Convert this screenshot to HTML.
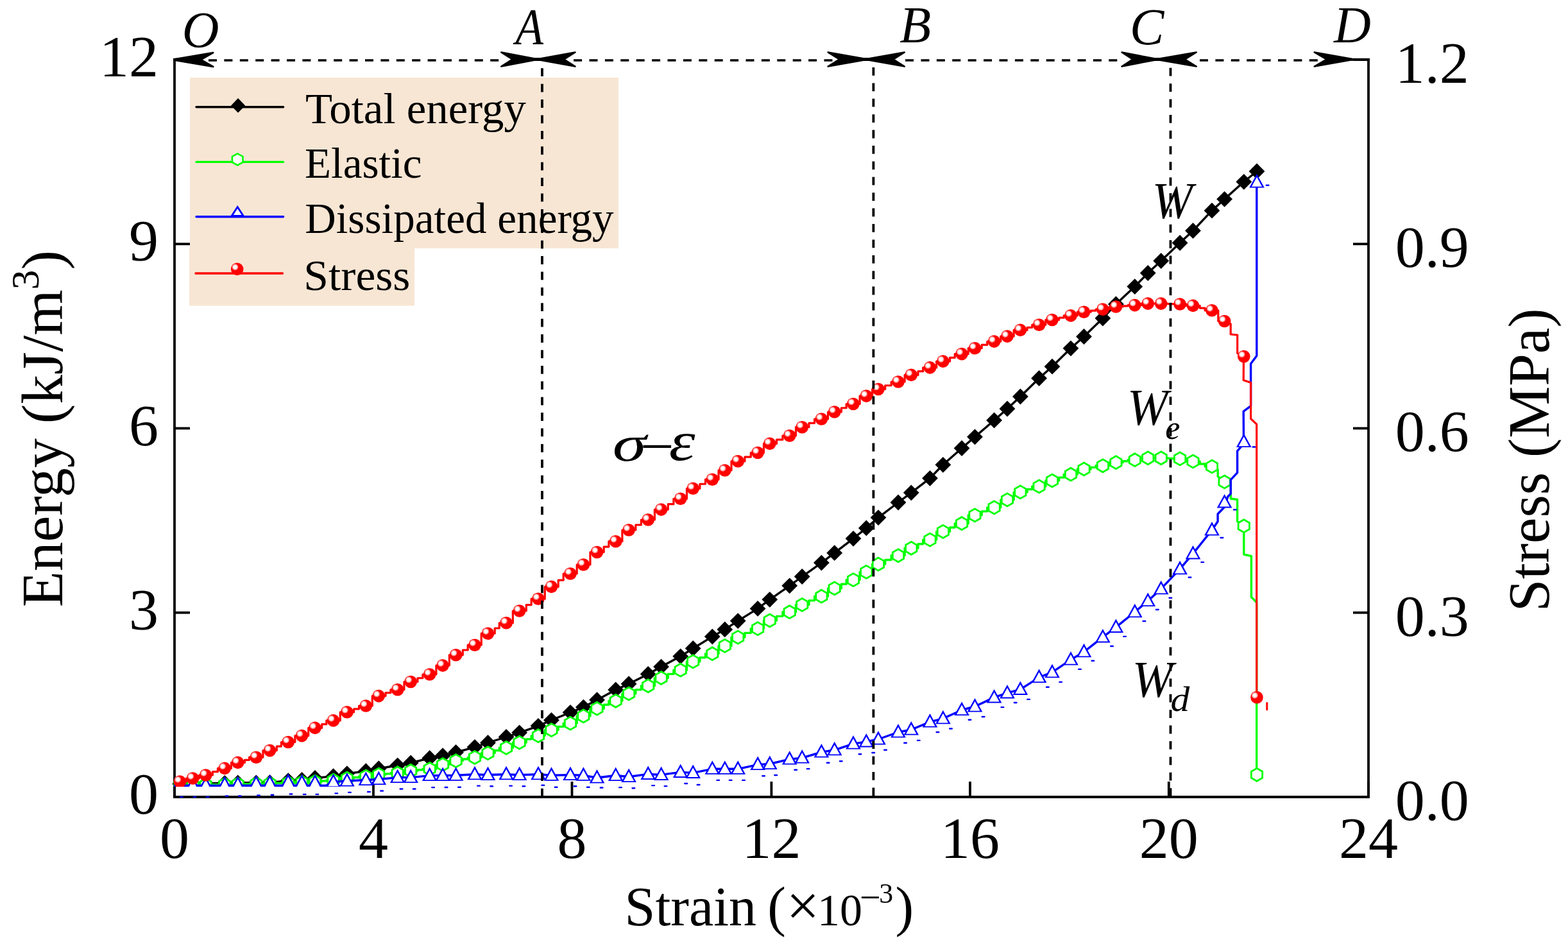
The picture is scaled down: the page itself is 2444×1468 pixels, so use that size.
<!DOCTYPE html>
<html><head><meta charset="utf-8"><title>Energy evolution</title>
<style>html,body{margin:0;padding:0;background:#fff;}svg{display:block;}</style>
</head><body>
<svg width="2444" height="1468" viewBox="0 0 2444 1468">
<defs>
<radialGradient id="hl" cx="0.5" cy="0.5" r="0.5">
<stop offset="0" stop-color="#fff"/>
<stop offset="0.4" stop-color="#fff"/>
<stop offset="0.62" stop-color="#ffc6c6"/>
<stop offset="0.85" stop-color="#ff6a6a"/>
<stop offset="1" stop-color="#ff0000"/>
</radialGradient>
<g id="ball"><circle r="9.8" fill="#ff0000"/><circle cx="-3.2" cy="-3.2" r="5.4" fill="url(#hl)"/></g>
<path id="dia" d="M0,-12.4 L12.4,0 L0,12.4 L-12.4,0 Z" fill="#000"/>
<path id="hex" d="M0,-10 L8.66,-5 L8.66,5 L0,10 L-8.66,5 L-8.66,-5 Z" fill="#fff" stroke="#00ff00" stroke-width="2.8"/>
<g id="tri"><path d="M0,0 L11.8,21.5 L-11.8,21.5 Z" fill="#0000ff"/><path d="M0,5 L8.07,19.7 L-8.07,19.7 Z" fill="#fff"/></g>
<g id="trio"><path d="M0,5 L8.9,21.5 L-8.9,21.5 Z" fill="#fff"/><path d="M0,0 L11.8,21.5 L8.9,21.5 L0,5 L-8.9,21.5 L-11.8,21.5 Z" fill="#0000ff"/></g>
<clipPath id="pc"><rect x="269" y="60" width="1900" height="1166"/></clipPath>
</defs>
<rect width="2444" height="1468" fill="#fff"/>
<rect x="296" y="121" width="668" height="266" fill="#F8E6D4"/>
<rect x="295" y="386" width="351" height="90.5" fill="#F8E6D4"/>
<path d="M272.0,91 L272.0,1242.0 L2133.0,1242.0 L2133.0,91" fill="none" stroke="#000" stroke-width="3.8" stroke-linejoin="miter"/>
<line x1="2106" y1="92.8" x2="2135" y2="92.8" stroke="#000" stroke-width="4"/>
<line x1="270" y1="92.8" x2="285" y2="92.8" stroke="#000" stroke-width="4"/>
<line x1="272" y1="1242.0" x2="272" y2="1218.0" stroke="#000" stroke-width="3.8"/>
<line x1="582" y1="1242.0" x2="582" y2="1218.0" stroke="#000" stroke-width="3.8"/>
<line x1="891.5" y1="1242.0" x2="891.5" y2="1218.0" stroke="#000" stroke-width="3.8"/>
<line x1="1202.4" y1="1242.0" x2="1202.4" y2="1218.0" stroke="#000" stroke-width="3.8"/>
<line x1="1512" y1="1242.0" x2="1512" y2="1218.0" stroke="#000" stroke-width="3.8"/>
<line x1="1821.8" y1="1242.0" x2="1821.8" y2="1218.0" stroke="#000" stroke-width="3.8"/>
<line x1="2133" y1="1242.0" x2="2133" y2="1218.0" stroke="#000" stroke-width="3.8"/>
<line x1="272.0" y1="1242" x2="296.0" y2="1242" stroke="#000" stroke-width="3.8"/>
<line x1="2133.0" y1="1242" x2="2109.0" y2="1242" stroke="#000" stroke-width="3.8"/>
<line x1="272.0" y1="954.75" x2="296.0" y2="954.75" stroke="#000" stroke-width="3.8"/>
<line x1="2133.0" y1="954.75" x2="2109.0" y2="954.75" stroke="#000" stroke-width="3.8"/>
<line x1="272.0" y1="667.5" x2="296.0" y2="667.5" stroke="#000" stroke-width="3.8"/>
<line x1="2133.0" y1="667.5" x2="2109.0" y2="667.5" stroke="#000" stroke-width="3.8"/>
<line x1="272.0" y1="380.25" x2="296.0" y2="380.25" stroke="#000" stroke-width="3.8"/>
<line x1="2133.0" y1="380.25" x2="2109.0" y2="380.25" stroke="#000" stroke-width="3.8"/>
<line x1="272.0" y1="93" x2="296.0" y2="93" stroke="#000" stroke-width="3.8"/>
<line x1="2133.0" y1="93" x2="2109.0" y2="93" stroke="#000" stroke-width="3.8"/>
<g clip-path="url(#pc)">
<polyline points="271,1221.5 280.4,1221.5 300.5,1221.5 320.7,1221 350.2,1220.5 370.7,1220 399.3,1219.8 420.6,1219.5 449.2,1216.6 470.5,1215.4 491,1212.5 519.6,1209.7 540.9,1205.6 570.3,1201.7 590.3,1197.7 619.7,1192.8 640.2,1188.9 669.7,1181.5 690.1,1177.7 710.6,1172.5 740,1164.3 760.5,1157.5 789.1,1148.5 809.6,1141.8 839,1131.3 859.5,1122.3 889,1110.3 909.4,1102.1 930.5,1090.7 959.7,1074.9 980.1,1065.7 1010.2,1050.4 1030.6,1039.1 1060.7,1022.8 1080.2,1010.5 1110.3,992.1 1129.8,980.9 1150.2,967.6 1181.1,948.4 1199.8,934.3 1230.7,912.8 1250.2,898.5 1280.4,877.1 1300.7,861.7 1330,839.3 1350.3,822.9 1369,806.6 1400,783 1420.3,767.8 1449.5,745.3 1469.9,724.3 1499.1,698.5 1519.5,680.8 1549.6,655 1570,637 1590.4,618 1619.6,589.5 1640,571.2 1669,542.8 1689.5,524.5 1718.9,496 1739.4,474 1768.8,446.6 1789.2,425.5 1809.7,406.5 1839.1,378.5 1859.5,359.5 1889,328.2 1908.6,310.3 1938.8,283.3 1959,267" fill="none" stroke="#000" stroke-width="3.4" stroke-linejoin="round"/>
<use href="#dia" x="280.4" y="1221.5"/>
<use href="#dia" x="300.5" y="1221.5"/>
<use href="#dia" x="320.7" y="1221"/>
<use href="#dia" x="350.2" y="1220.5"/>
<use href="#dia" x="370.7" y="1220"/>
<use href="#dia" x="399.3" y="1219.8"/>
<use href="#dia" x="420.6" y="1219.5"/>
<use href="#dia" x="449.2" y="1216.6"/>
<use href="#dia" x="470.5" y="1215.4"/>
<use href="#dia" x="491" y="1212.5"/>
<use href="#dia" x="519.6" y="1209.7"/>
<use href="#dia" x="540.9" y="1205.6"/>
<use href="#dia" x="570.3" y="1201.7"/>
<use href="#dia" x="590.3" y="1197.7"/>
<use href="#dia" x="619.7" y="1192.8"/>
<use href="#dia" x="640.2" y="1188.9"/>
<use href="#dia" x="669.7" y="1181.5"/>
<use href="#dia" x="690.1" y="1177.7"/>
<use href="#dia" x="710.6" y="1172.5"/>
<use href="#dia" x="740" y="1164.3"/>
<use href="#dia" x="760.5" y="1157.5"/>
<use href="#dia" x="789.1" y="1148.5"/>
<use href="#dia" x="809.6" y="1141.8"/>
<use href="#dia" x="839" y="1131.3"/>
<use href="#dia" x="859.5" y="1122.3"/>
<use href="#dia" x="889" y="1110.3"/>
<use href="#dia" x="909.4" y="1102.1"/>
<use href="#dia" x="930.5" y="1090.7"/>
<use href="#dia" x="959.7" y="1074.9"/>
<use href="#dia" x="980.1" y="1065.7"/>
<use href="#dia" x="1010.2" y="1050.4"/>
<use href="#dia" x="1030.6" y="1039.1"/>
<use href="#dia" x="1060.7" y="1022.8"/>
<use href="#dia" x="1080.2" y="1010.5"/>
<use href="#dia" x="1110.3" y="992.1"/>
<use href="#dia" x="1129.8" y="980.9"/>
<use href="#dia" x="1150.2" y="967.6"/>
<use href="#dia" x="1181.1" y="948.4"/>
<use href="#dia" x="1199.8" y="934.3"/>
<use href="#dia" x="1230.7" y="912.8"/>
<use href="#dia" x="1250.2" y="898.5"/>
<use href="#dia" x="1280.4" y="877.1"/>
<use href="#dia" x="1300.7" y="861.7"/>
<use href="#dia" x="1330" y="839.3"/>
<use href="#dia" x="1350.3" y="822.9"/>
<use href="#dia" x="1369" y="806.6"/>
<use href="#dia" x="1400" y="783"/>
<use href="#dia" x="1420.3" y="767.8"/>
<use href="#dia" x="1449.5" y="745.3"/>
<use href="#dia" x="1469.9" y="724.3"/>
<use href="#dia" x="1499.1" y="698.5"/>
<use href="#dia" x="1519.5" y="680.8"/>
<use href="#dia" x="1549.6" y="655"/>
<use href="#dia" x="1570" y="637"/>
<use href="#dia" x="1590.4" y="618"/>
<use href="#dia" x="1619.6" y="589.5"/>
<use href="#dia" x="1640" y="571.2"/>
<use href="#dia" x="1669" y="542.8"/>
<use href="#dia" x="1689.5" y="524.5"/>
<use href="#dia" x="1718.9" y="496"/>
<use href="#dia" x="1739.4" y="474"/>
<use href="#dia" x="1768.8" y="446.6"/>
<use href="#dia" x="1789.2" y="425.5"/>
<use href="#dia" x="1809.7" y="406.5"/>
<use href="#dia" x="1839.1" y="378.5"/>
<use href="#dia" x="1859.5" y="359.5"/>
<use href="#dia" x="1889" y="328.2"/>
<use href="#dia" x="1908.6" y="310.3"/>
<use href="#dia" x="1938.8" y="283.3"/>
<use href="#dia" x="1959" y="267"/>
<polyline points="271,1223.5 280.4,1223.5 290.45,1223.5 290.45,1223.5 290.45,1223.5 290.45,1223.5 300.5,1223.5 310.6,1223.5 310.6,1223.25 310.6,1223.25 310.6,1223 320.7,1223 331.4,1223 331.4,1222.75 339.4,1222.75 339.4,1222.5 350.2,1222.5 360.45,1222.5 360.45,1222.25 360.45,1222.25 360.45,1222 370.7,1222 381.4,1222 381.4,1221.75 388.5,1221.75 388.5,1221.5 399.3,1221.5 409.95,1221.5 409.95,1221.25 409.95,1221.25 409.95,1221 420.6,1221 431.3,1221 431.3,1220.5 438.4,1220.5 438.4,1220 449.2,1220 459.85,1220 459.85,1219.5 459.85,1219.5 459.85,1219 470.5,1219 480.75,1219 480.75,1218.5 480.75,1218.5 480.75,1218 491,1218 501.7,1218 501.7,1217 508.8,1217 508.8,1216 519.6,1216 530.25,1216 530.25,1214.5 530.25,1214.5 530.25,1213 540.9,1213 551.6,1213 551.6,1211.5 559.5,1211.5 559.5,1210 570.3,1210 580.3,1210 580.3,1208.5 580.3,1208.5 580.3,1207 590.3,1207 601,1207 601,1205.85 608.9,1205.85 608.9,1204.7 619.7,1204.7 629.95,1204.7 629.95,1202.95 629.95,1202.95 629.95,1201.2 640.2,1201.2 650.9,1201.2 650.9,1199.75 658.9,1199.75 658.9,1198.3 669.7,1198.3 679.9,1198.3 679.9,1194.9 679.9,1194.9 679.9,1191.5 690.1,1191.5 700.35,1191.5 700.35,1188.55 700.35,1188.55 700.35,1185.6 710.6,1185.6 721.3,1185.6 721.3,1183 729.2,1183 729.2,1180.4 740,1180.4 750.25,1180.4 750.25,1177 750.25,1177 750.25,1173.6 760.5,1173.6 771.2,1173.6 771.2,1169.5 778.3,1169.5 778.3,1165.4 789.1,1165.4 799.35,1165.4 799.35,1161.25 799.35,1161.25 799.35,1157.1 809.6,1157.1 820.3,1157.1 820.3,1151.85 828.2,1151.85 828.2,1146.6 839,1146.6 849.25,1146.6 849.25,1142.1 849.25,1142.1 849.25,1137.6 859.5,1137.6 870.2,1137.6 870.2,1132.35 878.2,1132.35 878.2,1127.1 889,1127.1 899.2,1127.1 899.2,1121.5 899.2,1121.5 899.2,1115.9 909.4,1115.9 919.95,1115.9 919.95,1110.05 919.95,1110.05 919.95,1104.2 930.5,1104.2 941.2,1104.2 941.2,1098.25 948.9,1098.25 948.9,1092.3 959.7,1092.3 969.9,1092.3 969.9,1086.65 969.9,1086.65 969.9,1081 980.1,1081 990.8,1081 990.8,1074.9 999.4,1074.9 999.4,1068.8 1010.2,1068.8 1020.4,1068.8 1020.4,1062.65 1020.4,1062.65 1020.4,1056.5 1030.6,1056.5 1041.3,1056.5 1041.3,1050.35 1049.9,1050.35 1049.9,1044.2 1060.7,1044.2 1070.45,1044.2 1070.45,1037.55 1070.45,1037.55 1070.45,1030.9 1080.2,1030.9 1090.9,1030.9 1090.9,1024.8 1099.5,1024.8 1099.5,1018.7 1110.3,1018.7 1120.05,1018.7 1120.05,1012.55 1120.05,1012.55 1120.05,1006.4 1129.8,1006.4 1140,1006.4 1140,999.75 1140,999.75 1140,993.1 1150.2,993.1 1160.9,993.1 1160.9,986.35 1170.3,986.35 1170.3,979.6 1181.1,979.6 1190.45,979.6 1190.45,973.3 1190.45,973.3 1190.45,967 1199.8,967 1210.5,967 1210.5,960.35 1219.9,960.35 1219.9,953.7 1230.7,953.7 1240.45,953.7 1240.45,948.1 1240.45,948.1 1240.45,942.5 1250.2,942.5 1260.9,942.5 1260.9,935.85 1269.6,935.85 1269.6,929.2 1280.4,929.2 1290.55,929.2 1290.55,923.05 1290.55,923.05 1290.55,916.9 1300.7,916.9 1311.4,916.9 1311.4,910.25 1319.2,910.25 1319.2,903.6 1330,903.6 1340.15,903.6 1340.15,897.5 1340.15,897.5 1340.15,891.4 1350.3,891.4 1359.65,891.4 1359.65,885.25 1359.65,885.25 1359.65,879.1 1369,879.1 1379.7,879.1 1379.7,872.45 1389.2,872.45 1389.2,865.8 1400,865.8 1410.15,865.8 1410.15,860.05 1410.15,860.05 1410.15,854.3 1420.3,854.3 1431,854.3 1431,847.7 1438.7,847.7 1438.7,841.1 1449.5,841.1 1459.7,841.1 1459.7,834.75 1459.7,834.75 1459.7,828.4 1469.9,828.4 1480.6,828.4 1480.6,822.05 1488.3,822.05 1488.3,815.7 1499.1,815.7 1509.3,815.7 1509.3,809.3 1509.3,809.3 1509.3,802.9 1519.5,802.9 1530.2,802.9 1530.2,796.9 1538.8,796.9 1538.8,790.9 1549.6,790.9 1559.8,790.9 1559.8,784.9 1559.8,784.9 1559.8,778.9 1570,778.9 1580.2,778.9 1580.2,772.9 1580.2,772.9 1580.2,766.9 1590.4,766.9 1601.1,766.9 1601.1,762.45 1608.8,762.45 1608.8,758 1619.6,758 1629.8,758 1629.8,753.5 1629.8,753.5 1629.8,749 1640,749 1650.7,749 1650.7,744.1 1658.2,744.1 1658.2,739.2 1669,739.2 1679.25,739.2 1679.25,735.1 1679.25,735.1 1679.25,731 1689.5,731 1700.2,731 1700.2,728.4 1708.1,728.4 1708.1,725.8 1718.9,725.8 1729.15,725.8 1729.15,723.25 1729.15,723.25 1729.15,720.7 1739.4,720.7 1750.1,720.7 1750.1,718.7 1758,718.7 1758,716.7 1768.8,716.7 1779,716.7 1779,715.25 1779,715.25 1779,713.8 1789.2,713.8 1799.45,713.8 1799.45,713.8 1799.45,713.8 1799.45,713.8 1809.7,713.8 1820.4,713.8 1820.4,714.35 1828.3,714.35 1828.3,714.9 1839.1,714.9 1849.3,714.9 1849.3,716.95 1849.3,716.95 1849.3,719 1859.5,719 1870.2,719 1870.2,723 1878.2,723 1878.2,727 1889,727 1898.2,732 1898.2,742.4 1908.6,751 1918.3,756 1918.3,777 1928.6,778.5 1928.6,812.7 1938.8,819.7 1938.8,864 1950.4,866.7 1950.4,930.5 1957.5,937.6 1958.7,940 1958.7,1207.3" fill="none" stroke="#00ff00" stroke-width="3.4" stroke-linejoin="round"/>
<use href="#hex" x="280.4" y="1223.5"/>
<use href="#hex" x="300.5" y="1223.5"/>
<use href="#hex" x="320.7" y="1223"/>
<use href="#hex" x="350.2" y="1222.5"/>
<use href="#hex" x="370.7" y="1222"/>
<use href="#hex" x="399.3" y="1221.5"/>
<use href="#hex" x="420.6" y="1221"/>
<use href="#hex" x="449.2" y="1220"/>
<use href="#hex" x="470.5" y="1219"/>
<use href="#hex" x="491" y="1218"/>
<use href="#hex" x="519.6" y="1216"/>
<use href="#hex" x="540.9" y="1213"/>
<use href="#hex" x="570.3" y="1210"/>
<use href="#hex" x="590.3" y="1207"/>
<use href="#hex" x="619.7" y="1204.7"/>
<use href="#hex" x="640.2" y="1201.2"/>
<use href="#hex" x="669.7" y="1198.3"/>
<use href="#hex" x="690.1" y="1191.5"/>
<use href="#hex" x="710.6" y="1185.6"/>
<use href="#hex" x="740" y="1180.4"/>
<use href="#hex" x="760.5" y="1173.6"/>
<use href="#hex" x="789.1" y="1165.4"/>
<use href="#hex" x="809.6" y="1157.1"/>
<use href="#hex" x="839" y="1146.6"/>
<use href="#hex" x="859.5" y="1137.6"/>
<use href="#hex" x="889" y="1127.1"/>
<use href="#hex" x="909.4" y="1115.9"/>
<use href="#hex" x="930.5" y="1104.2"/>
<use href="#hex" x="959.7" y="1092.3"/>
<use href="#hex" x="980.1" y="1081"/>
<use href="#hex" x="1010.2" y="1068.8"/>
<use href="#hex" x="1030.6" y="1056.5"/>
<use href="#hex" x="1060.7" y="1044.2"/>
<use href="#hex" x="1080.2" y="1030.9"/>
<use href="#hex" x="1110.3" y="1018.7"/>
<use href="#hex" x="1129.8" y="1006.4"/>
<use href="#hex" x="1150.2" y="993.1"/>
<use href="#hex" x="1181.1" y="979.6"/>
<use href="#hex" x="1199.8" y="967"/>
<use href="#hex" x="1230.7" y="953.7"/>
<use href="#hex" x="1250.2" y="942.5"/>
<use href="#hex" x="1280.4" y="929.2"/>
<use href="#hex" x="1300.7" y="916.9"/>
<use href="#hex" x="1330" y="903.6"/>
<use href="#hex" x="1350.3" y="891.4"/>
<use href="#hex" x="1369" y="879.1"/>
<use href="#hex" x="1400" y="865.8"/>
<use href="#hex" x="1420.3" y="854.3"/>
<use href="#hex" x="1449.5" y="841.1"/>
<use href="#hex" x="1469.9" y="828.4"/>
<use href="#hex" x="1499.1" y="815.7"/>
<use href="#hex" x="1519.5" y="802.9"/>
<use href="#hex" x="1549.6" y="790.9"/>
<use href="#hex" x="1570" y="778.9"/>
<use href="#hex" x="1590.4" y="766.9"/>
<use href="#hex" x="1619.6" y="758"/>
<use href="#hex" x="1640" y="749"/>
<use href="#hex" x="1669" y="739.2"/>
<use href="#hex" x="1689.5" y="731"/>
<use href="#hex" x="1718.9" y="725.8"/>
<use href="#hex" x="1739.4" y="720.7"/>
<use href="#hex" x="1768.8" y="716.7"/>
<use href="#hex" x="1789.2" y="713.8"/>
<use href="#hex" x="1809.7" y="713.8"/>
<use href="#hex" x="1839.1" y="714.9"/>
<use href="#hex" x="1859.5" y="719"/>
<use href="#hex" x="1889" y="727"/>
<use href="#hex" x="1908.6" y="751"/>
<use href="#hex" x="1938.8" y="819.7"/>
<use href="#hex" x="1959" y="1207.3"/>
<polyline points="271,1224.2 280.4,1224.2 300.5,1224.2 320.7,1224.2 350.2,1224.2 370.7,1224.2 399.3,1224.2 420.6,1224.2 449.2,1224.2 470.5,1224.2 491,1224.2 508,1224.2 519.6,1218.5 540.9,1217 570.3,1215.5 590.3,1214.5 619.7,1211.6 640.2,1211.6 669.7,1208.6 690.1,1208.5 710.6,1208.3 740,1206.8 760.5,1207.6 789.1,1206.8 809.6,1207.6 839,1206.8 859.5,1208.3 889,1207.6 909.4,1208.3 930.5,1212 959.7,1208.5 980.1,1210.5 1010.2,1206.4 1030.6,1207.4 1060.7,1203.4 1080.2,1204.4 1110.3,1198.3 1129.8,1198.3 1150.2,1198.3 1181.1,1191.6 1199.8,1190.5 1230.7,1183.1 1250.2,1181.1 1280.4,1172.1 1300.7,1168.8 1330,1159.1 1350.3,1155.9 1369,1152 1400,1141 1420.3,1137.1 1449.5,1125 1469.9,1119.8 1499.1,1106.5 1519.5,1101 1549.6,1086.9 1570,1079.9 1590.4,1074.4 1619.6,1055.6 1640,1047.7 1669,1028.1 1689.5,1015.8 1718.9,992.9 1739.4,977.4 1768.8,953.7 1789.2,936.5 1809.7,917.7 1839.1,886.7 1859.5,862.9 1889,826 1898.1,812.7 1898.1,801 1908.7,790 1913.7,774 1918.3,769.4 1918.3,747.6 1928.6,736.7 1928.6,702.9 1935.5,694.9 1938.5,688 1938.2,641.2 1949.6,632.6 1949.6,566.8 1958.8,554.4 1958.8,284" fill="none" stroke="#0000ff" stroke-width="3.4" stroke-linejoin="round"/>
<use href="#trio" x="280.4" y="1210"/>
<use href="#trio" x="300.5" y="1210"/>
<use href="#trio" x="320.7" y="1210"/>
<use href="#trio" x="350.2" y="1209.3"/>
<use href="#trio" x="370.7" y="1209.3"/>
<use href="#trio" x="399.3" y="1208"/>
<use href="#trio" x="420.6" y="1207.2"/>
<use href="#trio" x="449.2" y="1205.5"/>
<use href="#trio" x="470.5" y="1206.4"/>
<use href="#trio" x="491" y="1206.4"/>
<use href="#tri" x="519.6" y="1205.5"/>
<use href="#tri" x="540.9" y="1204"/>
<use href="#tri" x="570.3" y="1202.5"/>
<use href="#tri" x="590.3" y="1201.5"/>
<use href="#tri" x="619.7" y="1198.6"/>
<use href="#tri" x="640.2" y="1198.6"/>
<use href="#tri" x="669.7" y="1195.6"/>
<use href="#tri" x="690.1" y="1195.5"/>
<use href="#tri" x="710.6" y="1195.3"/>
<use href="#tri" x="740" y="1193.8"/>
<use href="#tri" x="760.5" y="1194.6"/>
<use href="#tri" x="789.1" y="1193.8"/>
<use href="#tri" x="809.6" y="1194.6"/>
<use href="#tri" x="839" y="1193.8"/>
<use href="#tri" x="859.5" y="1195.3"/>
<use href="#tri" x="889" y="1194.6"/>
<use href="#tri" x="909.4" y="1195.3"/>
<use href="#tri" x="930.5" y="1199"/>
<use href="#tri" x="959.7" y="1195.5"/>
<use href="#tri" x="980.1" y="1197.5"/>
<use href="#tri" x="1010.2" y="1193.4"/>
<use href="#tri" x="1030.6" y="1194.4"/>
<use href="#tri" x="1060.7" y="1190.4"/>
<use href="#tri" x="1080.2" y="1191.4"/>
<use href="#tri" x="1110.3" y="1185.3"/>
<use href="#tri" x="1129.8" y="1185.3"/>
<use href="#tri" x="1150.2" y="1185.3"/>
<use href="#tri" x="1181.1" y="1178.6"/>
<use href="#tri" x="1199.8" y="1177.5"/>
<use href="#tri" x="1230.7" y="1170.1"/>
<use href="#tri" x="1250.2" y="1168.1"/>
<use href="#tri" x="1280.4" y="1159.1"/>
<use href="#tri" x="1300.7" y="1155.8"/>
<use href="#tri" x="1330" y="1146.1"/>
<use href="#tri" x="1350.3" y="1142.9"/>
<use href="#tri" x="1369" y="1139"/>
<use href="#tri" x="1400" y="1128"/>
<use href="#tri" x="1420.3" y="1124.1"/>
<use href="#tri" x="1449.5" y="1112"/>
<use href="#tri" x="1469.9" y="1106.8"/>
<use href="#tri" x="1499.1" y="1093.5"/>
<use href="#tri" x="1519.5" y="1088"/>
<use href="#tri" x="1549.6" y="1073.9"/>
<use href="#tri" x="1570" y="1066.9"/>
<use href="#tri" x="1590.4" y="1061.4"/>
<use href="#tri" x="1619.6" y="1042.6"/>
<use href="#tri" x="1640" y="1034.7"/>
<use href="#tri" x="1669" y="1015.1"/>
<use href="#tri" x="1689.5" y="1002.8"/>
<use href="#tri" x="1718.9" y="979.9"/>
<use href="#tri" x="1739.4" y="964.4"/>
<use href="#tri" x="1768.8" y="940.7"/>
<use href="#tri" x="1789.2" y="923.5"/>
<use href="#tri" x="1809.7" y="904.7"/>
<use href="#tri" x="1839.1" y="873.7"/>
<use href="#tri" x="1859.5" y="849.9"/>
<use href="#tri" x="1889" y="813"/>
<use href="#tri" x="1908.6" y="769.9"/>
<use href="#tri" x="1938.8" y="675.5"/>
<use href="#tri" x="1959" y="271"/>
<polyline points="280.4,1218 290.45,1218 290.45,1215.5 290.45,1215.5 290.45,1213 300.5,1213 310.6,1213 310.6,1210.5 310.6,1210.5 310.6,1208 320.7,1208 331.4,1208 331.4,1202.7 339.4,1202.7 339.4,1197.4 350.2,1197.4 360.45,1197.4 360.45,1192.9 360.45,1192.9 360.45,1188.4 370.7,1188.4 381.4,1188.4 381.4,1184.3 388.5,1184.3 388.5,1180.2 399.3,1180.2 409.95,1180.2 409.95,1174.9 409.95,1174.9 409.95,1169.6 420.6,1169.6 431.3,1169.6 431.3,1163.05 438.4,1163.05 438.4,1156.5 449.2,1156.5 459.85,1156.5 459.85,1151.55 459.85,1151.55 459.85,1146.6 470.5,1146.6 480.75,1146.6 480.75,1140.5 480.75,1140.5 480.75,1134.4 491,1134.4 501.7,1134.4 501.7,1128.65 508.8,1128.65 508.8,1122.9 519.6,1122.9 530.25,1122.9 530.25,1116.35 530.25,1116.35 530.25,1109.8 540.9,1109.8 551.6,1109.8 551.6,1104.9 559.5,1104.9 559.5,1100 570.3,1100 580.3,1100 580.3,1092.3 580.3,1092.3 580.3,1084.6 590.3,1084.6 601,1084.6 601,1079.7 608.9,1079.7 608.9,1074.8 619.7,1074.8 629.95,1074.8 629.95,1068.65 629.95,1068.65 629.95,1062.5 640.2,1062.5 650.9,1062.5 650.9,1056.75 658.9,1056.75 658.9,1051 669.7,1051 679.9,1051 679.9,1044.05 679.9,1044.05 679.9,1037.1 690.1,1037.1 700.35,1037.1 700.35,1028.95 700.35,1028.95 700.35,1020.8 710.6,1020.8 721.3,1020.8 721.3,1013 729.2,1013 729.2,1005.2 740,1005.2 750.25,1005.2 750.25,996.2 750.25,996.2 750.25,987.2 760.5,987.2 771.2,987.2 771.2,979 778.3,979 778.3,970.8 789.1,970.8 799.35,970.8 799.35,961.4 799.35,961.4 799.35,952 809.6,952 820.3,952 820.3,942.6 828.2,942.6 828.2,933.2 839,933.2 849.25,933.2 849.25,923.8 849.25,923.8 849.25,914.4 859.5,914.4 870.2,914.4 870.2,904.2 878.2,904.2 878.2,894 889,894 899.2,894 899.2,887 899.2,887 899.2,880 909.4,880 919.95,880 919.95,870.25 919.95,870.25 919.95,860.5 930.5,860.5 941.2,860.5 941.2,852.1 948.9,852.1 948.9,843.7 959.7,843.7 969.9,843.7 969.9,834.85 969.9,834.85 969.9,826 980.1,826 990.8,826 990.8,818 999.4,818 999.4,810 1010.2,810 1020.4,810 1020.4,802.05 1020.4,802.05 1020.4,794.1 1030.6,794.1 1041.3,794.1 1041.3,785.7 1049.9,785.7 1049.9,777.3 1060.7,777.3 1070.45,777.3 1070.45,769.3 1070.45,769.3 1070.45,761.3 1080.2,761.3 1090.9,761.3 1090.9,754.25 1099.5,754.25 1099.5,747.2 1110.3,747.2 1120.05,747.2 1120.05,740.1 1120.05,740.1 1120.05,733 1129.8,733 1140,733 1140,725.9 1140,725.9 1140,718.8 1150.2,718.8 1160.9,718.8 1160.9,712.15 1170.3,712.15 1170.3,705.5 1181.1,705.5 1190.45,705.5 1190.45,698.45 1190.45,698.45 1190.45,691.4 1199.8,691.4 1210.5,691.4 1210.5,685.2 1219.9,685.2 1219.9,679 1230.7,679 1240.45,679 1240.45,672.35 1240.45,672.35 1240.45,665.7 1250.2,665.7 1260.9,665.7 1260.9,659.35 1269.6,659.35 1269.6,653 1280.4,653 1290.55,653 1290.55,647.5 1290.55,647.5 1290.55,642 1300.7,642 1311.4,642 1311.4,635.75 1319.2,635.75 1319.2,629.5 1330,629.5 1340.15,629.5 1340.15,623.3 1340.15,623.3 1340.15,617.1 1350.3,617.1 1359.65,617.1 1359.65,611.8 1359.65,611.8 1359.65,606.5 1369,606.5 1379.7,606.5 1379.7,600.75 1389.2,600.75 1389.2,595 1400,595 1410.15,595 1410.15,589.7 1410.15,589.7 1410.15,584.4 1420.3,584.4 1431,584.4 1431,578.65 1438.7,578.65 1438.7,572.9 1449.5,572.9 1459.7,572.9 1459.7,568 1459.7,568 1459.7,563.1 1469.9,563.1 1480.6,563.1 1480.6,557.35 1488.3,557.35 1488.3,551.6 1499.1,551.6 1509.3,551.6 1509.3,547.15 1509.3,547.15 1509.3,542.7 1519.5,542.7 1530.2,542.7 1530.2,537.4 1538.8,537.4 1538.8,532.1 1549.6,532.1 1559.8,532.1 1559.8,528.1 1559.8,528.1 1559.8,524.1 1570,524.1 1580.2,524.1 1580.2,519.25 1580.2,519.25 1580.2,514.4 1590.4,514.4 1601.1,514.4 1601.1,510.3 1608.8,510.3 1608.8,506.2 1619.6,506.2 1629.8,506.2 1629.8,502.35 1629.8,502.35 1629.8,498.5 1640,498.5 1650.7,498.5 1650.7,495.2 1658.2,495.2 1658.2,491.9 1669,491.9 1679.25,491.9 1679.25,489.05 1679.25,489.05 1679.25,486.2 1689.5,486.2 1700.2,486.2 1700.2,484.15 1708.1,484.15 1708.1,482.1 1718.9,482.1 1729.15,482.1 1729.15,480.05 1729.15,480.05 1729.15,478 1739.4,478 1750.1,478 1750.1,476.8 1758,476.8 1758,475.6 1768.8,475.6 1779,475.6 1779,474.35 1779,474.35 1779,473.1 1789.2,473.1 1799.45,473.1 1799.45,473.1 1799.45,473.1 1799.45,473.1 1809.7,473.1 1820.4,473.1 1820.4,473.55 1828.3,473.55 1828.3,474 1839.1,474 1849.3,474 1849.3,475.2 1849.3,475.2 1849.3,476.4 1859.5,476.4 1870.2,476.4 1870.2,480.1 1878.2,480.1 1878.2,483.8 1889,483.8 1898.8,483.8 1898.8,492.15 1898.8,492.15 1898.8,500.5 1908.6,500.5 1918.2,504.8 1918.2,521 1928.7,522 1928.7,550.6 1938.5,555.5 1938.2,592.5 1949.6,596.3 1949.6,652.6 1958.7,661.2 1958.7,1086.8" fill="none" stroke="#ff0000" stroke-width="3.2" stroke-linejoin="round"/>
<use href="#ball" x="280.4" y="1218"/>
<use href="#ball" x="300.5" y="1213"/>
<use href="#ball" x="320.7" y="1208"/>
<use href="#ball" x="350.2" y="1197.4"/>
<use href="#ball" x="370.7" y="1188.4"/>
<use href="#ball" x="399.3" y="1180.2"/>
<use href="#ball" x="420.6" y="1169.6"/>
<use href="#ball" x="449.2" y="1156.5"/>
<use href="#ball" x="470.5" y="1146.6"/>
<use href="#ball" x="491" y="1134.4"/>
<use href="#ball" x="519.6" y="1122.9"/>
<use href="#ball" x="540.9" y="1109.8"/>
<use href="#ball" x="570.3" y="1100"/>
<use href="#ball" x="590.3" y="1084.6"/>
<use href="#ball" x="619.7" y="1074.8"/>
<use href="#ball" x="640.2" y="1062.5"/>
<use href="#ball" x="669.7" y="1051"/>
<use href="#ball" x="690.1" y="1037.1"/>
<use href="#ball" x="710.6" y="1020.8"/>
<use href="#ball" x="740" y="1005.2"/>
<use href="#ball" x="760.5" y="987.2"/>
<use href="#ball" x="789.1" y="970.8"/>
<use href="#ball" x="809.6" y="952"/>
<use href="#ball" x="839" y="933.2"/>
<use href="#ball" x="859.5" y="914.4"/>
<use href="#ball" x="889" y="894"/>
<use href="#ball" x="909.4" y="880"/>
<use href="#ball" x="930.5" y="860.5"/>
<use href="#ball" x="959.7" y="843.7"/>
<use href="#ball" x="980.1" y="826"/>
<use href="#ball" x="1010.2" y="810"/>
<use href="#ball" x="1030.6" y="794.1"/>
<use href="#ball" x="1060.7" y="777.3"/>
<use href="#ball" x="1080.2" y="761.3"/>
<use href="#ball" x="1110.3" y="747.2"/>
<use href="#ball" x="1129.8" y="733"/>
<use href="#ball" x="1150.2" y="718.8"/>
<use href="#ball" x="1181.1" y="705.5"/>
<use href="#ball" x="1199.8" y="691.4"/>
<use href="#ball" x="1230.7" y="679"/>
<use href="#ball" x="1250.2" y="665.7"/>
<use href="#ball" x="1280.4" y="653"/>
<use href="#ball" x="1300.7" y="642"/>
<use href="#ball" x="1330" y="629.5"/>
<use href="#ball" x="1350.3" y="617.1"/>
<use href="#ball" x="1369" y="606.5"/>
<use href="#ball" x="1400" y="595"/>
<use href="#ball" x="1420.3" y="584.4"/>
<use href="#ball" x="1449.5" y="572.9"/>
<use href="#ball" x="1469.9" y="563.1"/>
<use href="#ball" x="1499.1" y="551.6"/>
<use href="#ball" x="1519.5" y="542.7"/>
<use href="#ball" x="1549.6" y="532.1"/>
<use href="#ball" x="1570" y="524.1"/>
<use href="#ball" x="1590.4" y="514.4"/>
<use href="#ball" x="1619.6" y="506.2"/>
<use href="#ball" x="1640" y="498.5"/>
<use href="#ball" x="1669" y="491.9"/>
<use href="#ball" x="1689.5" y="486.2"/>
<use href="#ball" x="1718.9" y="482.1"/>
<use href="#ball" x="1739.4" y="478"/>
<use href="#ball" x="1768.8" y="475.6"/>
<use href="#ball" x="1789.2" y="473.1"/>
<use href="#ball" x="1809.7" y="473.1"/>
<use href="#ball" x="1839.1" y="474"/>
<use href="#ball" x="1859.5" y="476.4"/>
<use href="#ball" x="1889" y="483.8"/>
<use href="#ball" x="1908.6" y="500.5"/>
<use href="#ball" x="1938.8" y="555.5"/>
<use href="#ball" x="1959" y="1086.8"/>
</g>
<rect x="1973.3" y="1093.9" width="3" height="13.3" rx="1.5" fill="#ff0000"/>
<rect x="280.1" y="1240.7" width="5.8" height="2.4" rx="0.8" fill="#0000ff"/>
<rect x="300.5" y="1240.7" width="5.8" height="2.4" rx="0.8" fill="#0000ff"/>
<rect x="320.6" y="1240.7" width="5.8" height="2.4" rx="0.8" fill="#0000ff"/>
<rect x="350.6" y="1239.2" width="5.8" height="2.4" rx="0.8" fill="#0000ff"/>
<rect x="370.9" y="1239.2" width="5.8" height="2.4" rx="0.8" fill="#0000ff"/>
<rect x="400.1" y="1238.3" width="5.8" height="2.4" rx="0.8" fill="#0000ff"/>
<rect x="421.6" y="1237.5" width="5.8" height="2.4" rx="0.8" fill="#0000ff"/>
<rect x="450.6" y="1236.3" width="5.8" height="2.4" rx="0.8" fill="#0000ff"/>
<rect x="471.8" y="1236.7" width="5.8" height="2.4" rx="0.8" fill="#0000ff"/>
<rect x="491.5" y="1236.7" width="5.8" height="2.4" rx="0.8" fill="#0000ff"/>
<rect x="521.4" y="1235.2" width="5.8" height="2.4" rx="0.8" fill="#0000ff"/>
<rect x="542.1" y="1233.7" width="5.8" height="2.4" rx="0.8" fill="#0000ff"/>
<rect x="572" y="1232.8" width="5.8" height="2.4" rx="0.8" fill="#0000ff"/>
<rect x="592.2" y="1231.3" width="5.8" height="2.4" rx="0.8" fill="#0000ff"/>
<rect x="622.6" y="1228.3" width="5.8" height="2.4" rx="0.8" fill="#0000ff"/>
<rect x="642.8" y="1228.3" width="5.8" height="2.4" rx="0.8" fill="#0000ff"/>
<rect x="672.2" y="1225.9" width="5.8" height="2.4" rx="0.8" fill="#0000ff"/>
<rect x="692.6" y="1225.8" width="5.8" height="2.4" rx="0.8" fill="#0000ff"/>
<rect x="713.1" y="1225.6" width="5.8" height="2.4" rx="0.8" fill="#0000ff"/>
<rect x="743.1" y="1223.4" width="5.8" height="2.4" rx="0.8" fill="#0000ff"/>
<rect x="763.3" y="1224.1" width="5.8" height="2.4" rx="0.8" fill="#0000ff"/>
<rect x="793.2" y="1223.4" width="5.8" height="2.4" rx="0.8" fill="#0000ff"/>
<rect x="813.5" y="1224.1" width="5.8" height="2.4" rx="0.8" fill="#0000ff"/>
<rect x="843.4" y="1222.6" width="5.8" height="2.4" rx="0.8" fill="#0000ff"/>
<rect x="863.7" y="1225.6" width="5.8" height="2.4" rx="0.8" fill="#0000ff"/>
<rect x="893.6" y="1224.1" width="5.8" height="2.4" rx="0.8" fill="#0000ff"/>
<rect x="913.9" y="1225.6" width="5.8" height="2.4" rx="0.8" fill="#0000ff"/>
<rect x="934.7" y="1226.3" width="5.8" height="2.4" rx="0.8" fill="#0000ff"/>
<rect x="964.1" y="1225.9" width="5.8" height="2.4" rx="0.8" fill="#0000ff"/>
<rect x="984.5" y="1227" width="5.8" height="2.4" rx="0.8" fill="#0000ff"/>
<rect x="1015.2" y="1222.9" width="5.8" height="2.4" rx="0.8" fill="#0000ff"/>
<rect x="1034.6" y="1223.9" width="5.8" height="2.4" rx="0.8" fill="#0000ff"/>
<rect x="1066.3" y="1219.8" width="5.8" height="2.4" rx="0.8" fill="#0000ff"/>
<rect x="1085.7" y="1221.8" width="5.8" height="2.4" rx="0.8" fill="#0000ff"/>
<rect x="1116.4" y="1214.7" width="5.8" height="2.4" rx="0.8" fill="#0000ff"/>
<rect x="1135.8" y="1214.7" width="5.8" height="2.4" rx="0.8" fill="#0000ff"/>
<rect x="1156.2" y="1214.7" width="5.8" height="2.4" rx="0.8" fill="#0000ff"/>
<rect x="1187.2" y="1208" width="5.8" height="2.4" rx="0.8" fill="#0000ff"/>
<rect x="1206.3" y="1206.8" width="5.8" height="2.4" rx="0.8" fill="#0000ff"/>
<rect x="1237.3" y="1198.6" width="5.8" height="2.4" rx="0.8" fill="#0000ff"/>
<rect x="1256.7" y="1196.9" width="5.8" height="2.4" rx="0.8" fill="#0000ff"/>
<rect x="1287.8" y="1187.6" width="5.8" height="2.4" rx="0.8" fill="#0000ff"/>
<rect x="1307.9" y="1185" width="5.8" height="2.4" rx="0.8" fill="#0000ff"/>
<rect x="1337.6" y="1174" width="5.8" height="2.4" rx="0.8" fill="#0000ff"/>
<rect x="1358.3" y="1171.8" width="5.8" height="2.4" rx="0.8" fill="#0000ff"/>
<rect x="1377.1" y="1167.6" width="5.8" height="2.4" rx="0.8" fill="#0000ff"/>
<rect x="1408.2" y="1156.6" width="5.8" height="2.4" rx="0.8" fill="#0000ff"/>
<rect x="1428.9" y="1152.7" width="5.8" height="2.4" rx="0.8" fill="#0000ff"/>
<rect x="1458.6" y="1139.8" width="5.8" height="2.4" rx="0.8" fill="#0000ff"/>
<rect x="1479.1" y="1134.3" width="5.8" height="2.4" rx="0.8" fill="#0000ff"/>
<rect x="1508.6" y="1120.5" width="5.8" height="2.4" rx="0.8" fill="#0000ff"/>
<rect x="1529.7" y="1115.8" width="5.8" height="2.4" rx="0.8" fill="#0000ff"/>
<rect x="1559.5" y="1100.9" width="5.8" height="2.4" rx="0.8" fill="#0000ff"/>
<rect x="1579.8" y="1093.8" width="5.8" height="2.4" rx="0.8" fill="#0000ff"/>
<rect x="1600.2" y="1088.7" width="5.8" height="2.4" rx="0.8" fill="#0000ff"/>
<rect x="1630" y="1069.6" width="5.8" height="2.4" rx="0.8" fill="#0000ff"/>
<rect x="1650.3" y="1061.7" width="5.8" height="2.4" rx="0.8" fill="#0000ff"/>
<rect x="1680.1" y="1041.7" width="5.8" height="2.4" rx="0.8" fill="#0000ff"/>
<rect x="1700.5" y="1028.5" width="5.8" height="2.4" rx="0.8" fill="#0000ff"/>
<rect x="1730.1" y="1005.8" width="5.8" height="2.4" rx="0.8" fill="#0000ff"/>
<rect x="1750.2" y="990.7" width="5.8" height="2.4" rx="0.8" fill="#0000ff"/>
<rect x="1780.5" y="966.8" width="5.8" height="2.4" rx="0.8" fill="#0000ff"/>
<rect x="1800.9" y="948.8" width="5.8" height="2.4" rx="0.8" fill="#0000ff"/>
<rect x="1821.4" y="930.5" width="5.8" height="2.4" rx="0.8" fill="#0000ff"/>
<rect x="1851.6" y="898.6" width="5.8" height="2.4" rx="0.8" fill="#0000ff"/>
<rect x="1871.3" y="874.9" width="5.8" height="2.4" rx="0.8" fill="#0000ff"/>
<rect x="1901.5" y="836.8" width="5.8" height="2.4" rx="0.8" fill="#0000ff"/>
<rect x="1922" y="793.1" width="5.8" height="2.4" rx="0.8" fill="#0000ff"/>
<rect x="1951.5" y="695.3" width="5.8" height="2.4" rx="0.8" fill="#0000ff"/>
<rect x="1972.7" y="287.5" width="5.8" height="2.4" rx="0.8" fill="#0000ff"/>
<line x1="845" y1="106.3" x2="845" y2="1242" stroke="#000" stroke-width="3.8" stroke-dasharray="12.8 11.6"/>
<line x1="1361.4" y1="105" x2="1361.4" y2="1242" stroke="#000" stroke-width="3.8" stroke-dasharray="12.8 11.6"/>
<line x1="1824.5" y1="105.8" x2="1824.5" y2="1242" stroke="#000" stroke-width="3.8" stroke-dasharray="12.8 11.6"/>
<line x1="325" y1="94" x2="781" y2="94" stroke="#000" stroke-width="3.6" stroke-dasharray="13 11.4"/>
<line x1="894.1" y1="94" x2="1298" y2="94" stroke="#000" stroke-width="3.6" stroke-dasharray="13 11.4"/>
<line x1="1411.1" y1="94" x2="1748" y2="94" stroke="#000" stroke-width="3.6" stroke-dasharray="13 11.4"/>
<line x1="1870" y1="94" x2="2056" y2="94" stroke="#000" stroke-width="3.6" stroke-dasharray="13 11.4"/>
<path d="M271.8,92.4 L332.3,82 L313.1,93 L332.3,104 L271.8,93.6 Z" fill="#000" stroke="#000" stroke-width="2.6" stroke-linejoin="round"/>
<path d="M835.2,91.9 L781.3,81.5 L798.5,92.5 L781.3,103.5 L835.2,93.1 Z" fill="#000" stroke="#000" stroke-width="2.6" stroke-linejoin="round"/>
<path d="M839.8,91.9 L896.5,81.5 L879.3,92.5 L896.5,103.5 L839.8,93.1 Z" fill="#000" stroke="#000" stroke-width="2.6" stroke-linejoin="round"/>
<path d="M1348.7,91.9 L1290.6,81.5 L1308.2,92.5 L1290.6,103.5 L1348.7,93.1 Z" fill="#000" stroke="#000" stroke-width="2.6" stroke-linejoin="round"/>
<path d="M1351.8,91.9 L1409.8,81.5 L1392.6,92.5 L1409.8,103.5 L1351.8,93.1 Z" fill="#000" stroke="#000" stroke-width="2.6" stroke-linejoin="round"/>
<path d="M1802.2,91.9 L1748.6,81.5 L1765.3,92.5 L1748.6,103.5 L1802.2,93.1 Z" fill="#000" stroke="#000" stroke-width="2.6" stroke-linejoin="round"/>
<path d="M1805.3,91.9 L1864.7,81.5 L1847.1,92.5 L1864.7,103.5 L1805.3,93.1 Z" fill="#000" stroke="#000" stroke-width="2.6" stroke-linejoin="round"/>
<path d="M2106.7,91.9 L2048.7,81.5 L2067.5,92.5 L2048.7,103.5 L2106.7,93.1 Z" fill="#000" stroke="#000" stroke-width="2.6" stroke-linejoin="round"/>
<rect x="830" y="90" width="15" height="5" fill="#000"/>
<rect x="1343" y="90" width="15" height="5" fill="#000"/>
<rect x="1797" y="90" width="14" height="5" fill="#000"/>
<g font-family="'Liberation Serif', 'Times New Roman', serif" fill="#000">
<text x="272" y="1336.6" font-size="92" text-anchor="middle">0</text>
<text x="582" y="1336.6" font-size="92" text-anchor="middle">4</text>
<text x="891.5" y="1336.6" font-size="92" text-anchor="middle">8</text>
<text x="1202.4" y="1336.6" font-size="92" text-anchor="middle">12</text>
<text x="1512" y="1336.6" font-size="92" text-anchor="middle">16</text>
<text x="1821.8" y="1336.6" font-size="92" text-anchor="middle">20</text>
<text x="2133" y="1336.6" font-size="92" text-anchor="middle">24</text>
<text x="247" y="1268" font-size="92" text-anchor="end">0</text>
<text x="247" y="980.75" font-size="92" text-anchor="end">3</text>
<text x="247" y="693.5" font-size="92" text-anchor="end">6</text>
<text x="247" y="406.25" font-size="92" text-anchor="end">9</text>
<text x="247" y="119" font-size="92" text-anchor="end">12</text>
<text x="2174.8" y="1277.8" font-size="92">0.0</text>
<text x="2174.8" y="990.55" font-size="92">0.3</text>
<text x="2174.8" y="703.3" font-size="92">0.6</text>
<text x="2174.8" y="416.05" font-size="92">0.9</text>
<text x="2174.8" y="128.8" font-size="92">1.2</text>
<text transform="translate(96.8,946.3) rotate(-90)" font-size="91.7">Energy (kJ/m<tspan font-size="62" dy="-36.7">3</tspan><tspan dy="36.7">)</tspan></text>
<text transform="translate(2414,953.2) rotate(-90)" font-size="91">Stress (MPa)</text>
<text x="973.6" y="1441.7" font-size="86">Strain</text>
<text x="1196.2" y="1441.7" font-size="86">(</text>
<text x="1225.7" y="1441.7" font-size="91">×</text>
<text x="1274" y="1441.7" font-size="70">10</text>
<text x="1340" y="1418" font-size="58">−</text>
<text x="1370.2" y="1407.3" font-size="44">3</text>
<text x="1395.4" y="1441.7" font-size="86">)</text>
<text transform="matrix(1.0206,0,0,1,476,191.9)" font-size="67.5">Total energy</text>
<text transform="matrix(0.994,0,0,1,475.1,276.8)" font-size="67.5">Elastic</text>
<text transform="matrix(0.9945,0,0,1,475.2,363)" font-size="67.5">Dissipated energy</text>
<text transform="matrix(1.03,0,0,1,473.3,451.8)" font-size="67.5">Stress</text>
<g font-style="italic">
<text x="283.8" y="73.5" font-size="80">O</text>
<text transform="matrix(0.89,0,0,1,803.6,68.7)" font-size="80">A</text>
<text x="1402.3" y="65.5" font-size="80">B</text>
<text x="1761.1" y="68.5" font-size="80">C</text>
<text x="2078.9" y="65.8" font-size="80">D</text>
<text transform="matrix(0.95,0,0,1,1795.7,340.2)" font-size="80">W</text>
<text transform="matrix(0.95,0,0,1,1757,662.4)" font-size="80">W</text>
<text x="1816.2" y="683.8" font-size="52">e</text>
<text transform="matrix(0.95,0,0,1,1764.8,1086)" font-size="80">W</text>
<text transform="matrix(1.1,0,0,1,1824.4,1107.8)" font-size="54">d</text>
<text transform="matrix(1.35,0,0,1,954.7,717.8)" font-size="79">σ</text>
<text x="1003" y="715.8" font-size="85">–</text>
<text transform="matrix(1.18,0,0,1,1042.7,717.2)" font-size="87.7">ε</text>
</g>
</g>
<line x1="306" y1="166.7" x2="441.6" y2="166.7" stroke="#000" stroke-width="3.4" stroke-linecap="round"/>
<path d="M371.1,153 L382.1,164.4 L371.1,175.8 L360.1,164.4 Z" fill="#000"/>
<line x1="306" y1="252.4" x2="441.6" y2="252.4" stroke="#00ff00" stroke-width="3.4" stroke-linecap="round"/>
<path d="M370.2,239.4 L378.5,243.9 L378.5,252.9 L370.2,257.4 L361.9,252.9 L361.9,243.9 Z" fill="#fff" stroke="#00ff00" stroke-width="2.6"/>
<line x1="306" y1="337.7" x2="441.6" y2="337.7" stroke="#0000ff" stroke-width="3.4" stroke-linecap="round"/>
<path d="M370.2,322.5 L379.2,336.4 L361.2,336.4 Z" fill="#fff" stroke="#0000ff" stroke-width="2.8"/>
<line x1="305" y1="426" x2="440.5" y2="426" stroke="#ff0000" stroke-width="3.4" stroke-linecap="round"/>
<use href="#ball" x="369.7" y="419.4"/>
</svg>
</body></html>
